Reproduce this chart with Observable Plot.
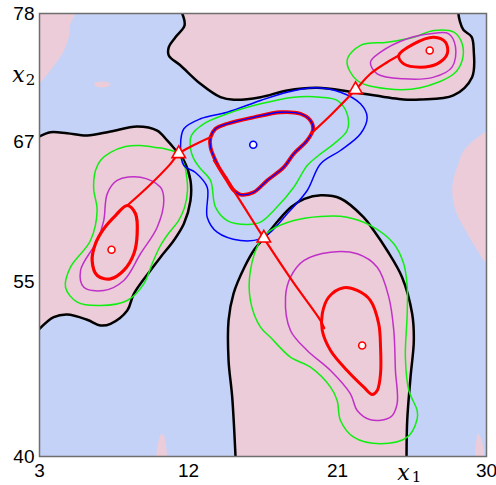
<!DOCTYPE html>
<html><head><meta charset="utf-8">
<script src="https://cdn.jsdelivr.net/npm/d3@7"></script>
<script src="https://cdn.jsdelivr.net/npm/@observablehq/plot@0.6"></script>
<style>body{margin:0;background:#fff}</style>
</head><body><div id="chart"></div>
<script>
const xTicks = [3, 12, 21, 30];
const yTicks = [40, 55, 67, 78];

// pink (positive) regions: boundary, and extra closing points beyond the frame
const pinkTopLeft = [[3,71.97],[3.66,73.11],[4.37,74.54],[4.77,75.97],[4.87,77.12],[5.17,78]];
const pinkTopLeftClose = [[5.3,79],[2,79],[2,71.97]];
const pinkBlob = [[6.29,71.91],[6.45,72.1],[6.79,72.17],[7.13,72.1],[7.29,71.91],[7.13,71.73],[6.79,71.66],[6.45,71.73]];
const pinkLeft = [[3,67.45],[3.66,67.82],[4.67,67.73],[5.88,67.53],[7.29,67.88],[8.9,68.31],[10.11,67.96],[10.71,67.11],[11.09,66.51],[11.45,65.9],[11.72,65.39],[12.12,63.68],[12.12,61.96],[11.72,59.96],[11.11,58.53],[10.31,57.1],[9.7,55.96],[8.7,53.96],[8.3,52.52],[7.29,51.38],[6.68,51.24],[5.88,51.73],[4.67,52.18],[3.86,51.95],[3,50.95]];
const pinkLeftClose = [[2,50.95],[2,67.45]];
const pinkTop = [[11.62,78],[11.76,76.97],[11.21,75.97],[10.81,75.11],[10.81,74.4],[11.52,73.54],[12.72,71.97],[13.93,70.82],[14.74,70.6],[16.35,70.82],[17.96,71.4],[19.77,71.63],[21.97,71.25],[24.99,70.62],[26.0,70.62],[28.0,70.97],[29.13,72.54],[29.23,74.8],[29.1,76.0],[28.6,76.6],[28.38,77.4],[28.3,78]];
const pinkTopClose = [[28.3,79],[11.62,79]];
const pinkMid = [[14.84,40],[14.64,45.09],[14.42,48.24],[14.42,51.67],[14.72,53.98],[15.4,56.3],[16.0,57.8],[16.6,58.8],[17.4,60.2],[18.2,61.4],[19.0,62.1],[20.0,62.4],[21.18,62.13],[22.57,60.53],[23.19,59.39],[24.0,57.67],[24.9,55.38],[25.51,52.24],[25.61,49.95],[25.41,46.8],[25.21,43.09],[25.17,40]];
const pinkMidClose = [[25.17,39],[14.84,39]];
const pinkRight = [[30,67.9],[29.23,67.11],[28.63,66.25],[28.23,64.82],[28.03,63.96],[27.93,62.82],[28.13,61.1],[28.63,59.67],[29.33,57.96],[29.84,56.81],[30,56.6],[31,56.3],[31,68.2]];
const bumpA = [[10.05,39.5],[10.05,40],[10.15,41.0],[10.3,41.8],[10.45,41.9],[10.6,41.3],[10.7,40],[10.7,39.5]];
const bumpB = [[29.3,39.5],[29.3,40],[29.38,41.3],[29.5,41.95],[29.65,41.6],[29.8,40.8],[29.85,40],[29.85,39.5]];

// contour lines
const redLeft = [[8.30,61.53],[8.80,60.82],[8.90,59.10],[8.70,57.39],[8.09,55.96],[7.29,55.24],[6.49,55.53],[6.18,56.81],[6.38,58.25],[6.88,59.53],[7.59,60.67]];
const magLeft = [[7.09,62.53],[7.69,63.68],[9.10,63.96],[10.31,63.1],[10.51,61.96],[10.11,59.67],[9.10,57.39],[8.09,55.1],[6.88,54.24],[5.68,54.52],[5.48,55.96],[6.49,58.53],[6.88,60.24]];
const greenLeft = [[6.28,63.68],[6.38,64.53],[6.68,65.39],[7.29,66.08],[8.19,66.59],[9.10,66.68],[10.01,66.51],[10.61,66.38],[11.21,66.1],[11.72,65.11],[11.88,64.1],[11.94,62.82],[11.76,61.36],[11.40,60.24],[10.79,59.13],[10.31,58.1],[9.83,56.64],[9.30,54.81],[8.30,53.38],[6.68,52.95],[5.28,53.24],[4.57,54.52],[4.87,56.24],[6.08,58.53],[6.48,61.1],[6.28,62.82]];
const redMid = [[13.33,67.39],[13.63,68.11],[14.34,68.54],[15.95,69.1],[17.56,69.53],[18.76,69.4],[19.37,68.82],[19.53,68.11],[19.17,67.11],[18.36,65.97],[17.76,64.82],[16.75,63.68],[15.94,62.67],[15.14,62.47],[14.74,62.82],[14.34,63.68],[13.83,64.82],[13.63,65.39],[13.33,66.53]];
const greenMid = [[12.32,65.53],[12.12,66.42],[12.18,67.54],[12.92,68.54],[14.34,69.4],[16.35,70.25],[18.36,70.82],[19.97,70.82],[20.98,70.54],[21.58,69.4],[21.58,67.96],[20.78,66.82],[19.85,65.82],[19.17,64.96],[18.36,63.1],[17.15,61.1],[16.35,60.1],[15.55,59.9],[14.34,60.24],[13.63,61.39],[13.33,63.68],[12.72,64.7]];
const blueMid = [[11.72,64.96],[11.52,66.68],[11.72,68.11],[12.72,68.97],[14.34,69.53],[16.35,70.54],[17.96,71.25],[19.57,71.63],[21.18,71.25],[22.39,70.25],[22.79,69.1],[22.39,67.68],[21.18,66.25],[19.97,65.1],[19.17,62.82],[17.96,60.82],[16.95,59.24],[16.35,58.67],[15.14,58.53],[13.73,59.24],[13.13,60.53],[13.13,63.1],[12.42,64.36]];
const redTR = [[24.7,74.4],[25.61,75.4],[26.82,75.97],[27.52,75.54],[27.63,74.54],[27.02,73.68],[26.01,73.4],[25.0,73.68]];
const magTR = [[22.99,73.82],[23.6,74.68],[25.21,75.83],[26.62,76.26],[27.72,76.26],[28.13,75.11],[27.92,73.4],[26.82,72.54],[25.0,72.4],[23.4,72.83]];
const greenTR = [[21.58,73.97],[22.39,75.26],[24.0,75.54],[25.61,75.97],[26.82,76.54],[28.03,76.4],[28.53,75.4],[28.53,73.97],[28.03,72.83],[26.01,71.63],[24.0,71.54],[22.19,72.25]];
const redBR = [[21.38,54.47],[22.19,54.24],[22.99,53.38],[23.49,51.38],[23.6,49.38],[23.6,47.1],[23.4,45.66],[23.1,45.32],[22.59,45.95],[21.58,47.38],[20.58,49.1],[20.08,50.81],[20.08,52.24],[20.47,53.67]];
const magBR = [[18.16,55.38],[18.96,56.81],[20.58,57.53],[22.19,57.39],[23.4,56.24],[24.1,53.67],[24.4,50.81],[24.5,47.38],[24.6,44.52],[24.2,43.37],[22.99,43.15],[22.19,43.95],[21.78,45.38],[20.58,47.38],[19.17,49.1],[18.16,50.81],[17.86,53.67]];
const greenBR = [[16.95,59.39],[18.36,60.24],[19.97,60.59],[21.58,60.53],[22.99,59.82],[24.4,58.25],[25.0,56.53],[25.21,54.6],[25.21,52.24],[25.1,48.52],[25.31,45.66],[25.81,43.95],[25.81,43.2],[25.21,41.66],[23.6,41.09],[21.98,41.66],[21.18,43.09],[20.98,44.8],[20.58,45.95],[19.37,47.66],[18.16,48.52],[16.95,50.23],[16.35,51.09],[15.74,53.38],[15.74,55.96],[16.35,58.53]];

// paths linking the critical points
const path1 = [[8.30,61.53],[9.6,63.2],[10.91,65.1],[11.41,65.97],[12.3,66.7],[13.33,67.39]];
const path2 = [[13.53,65.39],[15.0,62.2],[16.55,58.73],[18.3,55.0],[19.97,51.67],[20.2,51.0]];
const path3 = [[19.4,67.7],[20.6,69.3],[22.09,71.46],[22.99,72.83],[24.0,73.82],[24.7,74.4]];

const saddles = [[11.41,65.97],[16.55,58.73],[22.09,71.46]];
const maxima = [[7.35,57.73],[26.57,74.83],[22.49,49.52]];
const minima = [[15.91,66.74]];

const PINK = "#ecccd8", BLUE = "#c5d2f7";
const RED = "#ff0000", MAG = "#c030c8", GREEN = "#11ee11", BLU = "#0000ff";

const fillReg = (pts) => Plot.line(pts, {fill: PINK, stroke: "none", curve: "catmull-rom", clip: true});
const edge = (pts) => Plot.line(pts, {stroke: "black", strokeWidth: 2.5, curve: "catmull-rom", clip: true});
const ring = (pts, color, w) => Plot.line(pts, {stroke: color, strokeWidth: w, curve: "catmull-rom-closed", clip: true});
const path = (pts) => Plot.line(pts, {stroke: RED, strokeWidth: 2.2, curve: "catmull-rom", clip: true});

const chart = Plot.plot({
  width: 496, height: 485,
  marginLeft: 39, marginRight: 10, marginTop: 13, marginBottom: 29,
  style: {fontFamily: "'Liberation Sans', Arial, sans-serif", fontSize: "19px", color: "#000", background: "#fff"},
  x: {domain: [3, 30], ticks: xTicks, tickSize: 0, tickPadding: 7, label: null},
  y: {domain: [40, 78], ticks: yTicks, tickSize: 0, tickPadding: 5, label: null},
  marks: [
    Plot.frame({fill: BLUE}),
    fillReg(pinkTopLeft.concat(pinkTopLeftClose)),
    Plot.line(pinkBlob, {fill: PINK, stroke: "none", curve: "catmull-rom-closed", clip: true}),
    fillReg(pinkLeft.concat(pinkLeftClose)),
    fillReg(pinkTop.concat(pinkTopClose)),
    fillReg(pinkMid.concat(pinkMidClose)),
    fillReg(pinkRight),
    fillReg(bumpA),
    fillReg(bumpB),
    edge(pinkLeft), edge(pinkTop), edge(pinkMid),
    ring(greenLeft, GREEN, 1.5), ring(magLeft, MAG, 1.5), ring(redLeft, RED, 3.2),
    ring(blueMid, BLU, 1.5), ring(greenMid, GREEN, 1.5), ring(redMid, RED, 3.8), ring(redMid, BLU, 1.3),
    ring(greenTR, GREEN, 1.5), ring(magTR, MAG, 1.5), ring(redTR, RED, 3),
    ring(greenBR, GREEN, 1.5), ring(magBR, MAG, 1.5), ring(redBR, RED, 3),
    path(path1), path(path2), path(path3),
    Plot.dot(saddles, {symbol: "triangle", r: 5, fill: "white", stroke: RED, strokeWidth: 1.6}),
    Plot.dot(maxima, {r: 3.5, fill: "white", stroke: RED, strokeWidth: 1.6}),
    Plot.dot(minima, {r: 3.5, fill: "white", stroke: BLU, strokeWidth: 1.6}),
    Plot.frame({stroke: "#6e6e6e", strokeWidth: 1.5}),
    Plot.text(["x"], {frameAnchor: "bottom-left", dx: 364, dy: 16, fontFamily: "'DejaVu Serif', serif", fontStyle: "italic", fontSize: 22, textAnchor: "middle", lineAnchor: "middle"}),
    Plot.text(["1"], {frameAnchor: "bottom-left", dx: 377, dy: 21, fontFamily: "'DejaVu Serif', serif", fontSize: 15, textAnchor: "middle", lineAnchor: "middle"}),
    Plot.text(["x"], {frameAnchor: "top-left", dx: -21, dy: 61, fontFamily: "'DejaVu Serif', serif", fontStyle: "italic", fontSize: 22, textAnchor: "middle", lineAnchor: "middle"}),
    Plot.text(["2"], {frameAnchor: "top-left", dx: -9, dy: 67, fontFamily: "'DejaVu Serif', serif", fontSize: 15, textAnchor: "middle", lineAnchor: "middle"})
  ]
});
document.getElementById("chart").appendChild(chart);
</script>
</body></html>
